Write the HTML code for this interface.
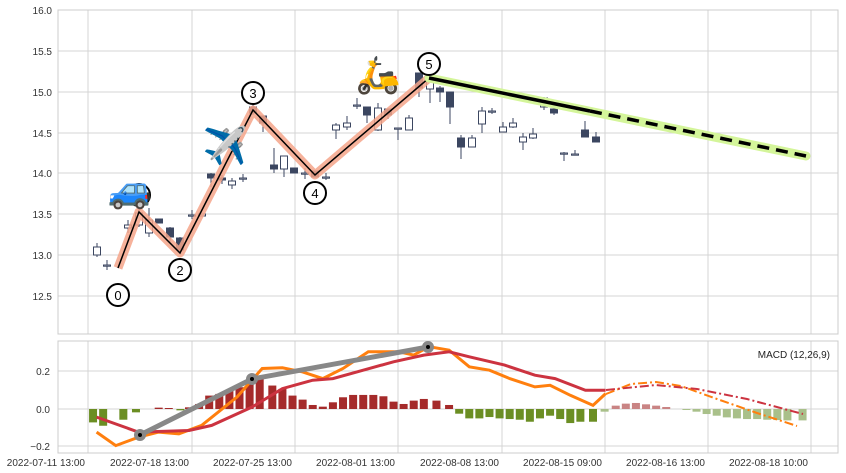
<!DOCTYPE html>
<html><head><meta charset="utf-8"><style>
html,body{margin:0;padding:0;background:#fff;}
svg{display:block;font-family:"Liberation Sans",sans-serif;}
</style></head><body>
<svg id="s" width="846" height="473" viewBox="0 0 846 473" xmlns="http://www.w3.org/2000/svg">
<rect width="846" height="473" fill="#fff"/>
<g stroke="#d4d4d4" stroke-width="1">
<line x1="58" y1="51" x2="838" y2="51"/><line x1="58" y1="92" x2="838" y2="92"/><line x1="58" y1="133" x2="838" y2="133"/><line x1="58" y1="173" x2="838" y2="173"/><line x1="58" y1="214" x2="838" y2="214"/><line x1="58" y1="255" x2="838" y2="255"/><line x1="58" y1="296" x2="838" y2="296"/>
<line x1="58" y1="371" x2="838" y2="371"/><line x1="58" y1="409" x2="838" y2="409"/><line x1="58" y1="446" x2="838" y2="446"/>
</g>
<g id="vg" stroke="#d4d4d4"></g>
<rect x="58" y="10" width="780" height="324" fill="none" stroke="#ccc"/>
<rect x="58" y="341" width="780" height="112" fill="none" stroke="#ccc"/>
<g font-size="10" fill="#333" text-anchor="end">
<text x="52" y="14">16.0</text><text x="52" y="55">15.5</text><text x="52" y="96">15.0</text><text x="52" y="137">14.5</text><text x="52" y="177">14.0</text><text x="52" y="218">13.5</text><text x="52" y="259">13.0</text><text x="52" y="300">12.5</text>
<text x="50" y="375">0.2</text><text x="50" y="413">0.0</text><text x="50" y="450">−0.2</text>
</g>
<g id="xl" font-size="10" fill="#333" text-anchor="end"></g>
<g id="cd"></g>
<polyline points="118,268 139,212 180,253 253,110 315,175 429,78" fill="none" stroke="#f4a58a" stroke-width="9" stroke-linejoin="round" opacity="0.85"/>
<polyline points="118,268 139,212 180,253 253,110 315,175 429,78" fill="none" stroke="#000" stroke-width="1.5"/>
<line x1="429" y1="78" x2="806" y2="156" stroke="#d4f59a" stroke-width="9" stroke-linecap="round"/>
<line x1="429" y1="78" x2="590" y2="111" stroke="#000" stroke-width="3.5"/>
<line x1="590" y1="111" x2="806" y2="156" stroke="#000" stroke-width="3.5" stroke-dasharray="12,7"/>
<g fill="#fff" stroke="#000" stroke-width="2" font-size="12" text-anchor="middle">
<circle cx="118" cy="295" r="11"/><circle cx="139" cy="195" r="11"/><circle cx="180" cy="270" r="11"/><circle cx="253" cy="93" r="11"/><circle cx="315" cy="193" r="11"/><circle cx="429" cy="64" r="11"/>
</g>
<g font-size="13" fill="#000" text-anchor="middle">
<text x="118" y="300">0</text><text x="180" y="275">2</text><text x="253" y="98">3</text><text x="315" y="198">4</text><text x="429" y="69">5</text>
</g>
<g font-size="36" text-anchor="middle" font-family="'Noto Color Emoji','DejaVu Sans',sans-serif">
<text x="130" y="202">🚙</text><text x="225" y="158">✈️</text><text x="378" y="87">🛵</text>
</g>
<g id="hb"></g>
<polyline id="ml" fill="none" stroke="#ff7f0e" stroke-width="3"/>
<polyline id="sl" fill="none" stroke="#cc3340" stroke-width="3"/>
<polyline points="606,394 631,384 656,382 681,386 717,399 757,413 797,426" fill="none" stroke="#ff7f0e" stroke-width="2" stroke-dasharray="9,3,2,3"/>
<polyline points="606,390 656,385 697,389 747,399 803,414" fill="none" stroke="#cc3340" stroke-width="2" stroke-dasharray="9,3,2,3"/>
<polyline points="140,435 252,379 428,347" fill="none" stroke="#888" stroke-width="5"/>
<g fill="#000" stroke="#888" stroke-width="4"><circle cx="140" cy="435" r="4"/><circle cx="252" cy="379" r="4"/><circle cx="428" cy="347" r="4"/></g>
<text x="830" y="358" font-size="10" fill="#222" text-anchor="end">MACD (12,26,9)</text>
</svg>
<script>
var NS="http://www.w3.org/2000/svg";
function el(p,t,a){var e=document.createElementNS(NS,t);for(var k in a)e.setAttribute(k,a[k]);document.getElementById(p).appendChild(e);return e;}
var gx=[88,192,295,398,502,605,708,811];
var lb=["2022-07-11 13:00","2022-07-18 13:00","2022-07-25 13:00","2022-08-01 13:00","2022-08-08 13:00","2022-08-15 09:00","2022-08-16 13:00","2022-08-18 10:00"];
gx.forEach(function(x,i){el("vg","line",{x1:x,y1:10,x2:x,y2:334});el("vg","line",{x1:x,y1:341,x2:x,y2:453});var t=el("xl","text",{x:x-3,y:466});t.textContent=lb[i];});
var c=[[97,247,255,243,257,0],[107,265,265,260,270,0],[128,225,228,220,233,0],[139,213,225,208,227,0],[149,220,233,208,237,0],[159,219,223,219,223,1],[170,228,237,227,242,1],[180,238,250,237,253,1],[192,215,215,210,219,0],[202,214,216,214,216,0],[211,174,178,173,187,1],[222,178,180,175,184,1],[232,181,185,178,189,0],[243,178,178,174,182,0],[253,107,113,105,115,1],[263,116,123,116,132,1],[274,165,169,148,173,1],[284,156,169,156,177,0],[294,168,173,168,173,1],[305,173,173,168,179,0],[315,171,177,171,177,1],[326,177,177,173,180,0],[336,125,130,123,139,0],[347,123,127,116,130,0],[357,105,105,98,109,0],[367,107,115,107,123,1],[378,108,130,103,131,0],[388,109,115,109,119,1],[398,128,128,128,140,0],[409,118,130,115,130,0],[419,73,88,73,97,1],[430,77,89,77,103,0],[440,88,92,86,102,1],[450,92,107,92,124,1],[461,138,147,135,159,1],[472,138,147,135,147,0],[482,111,124,107,133,0],[492,111,111,108,114,0],[503,127,132,122,132,0],[513,123,127,118,128,0],[523,137,142,133,150,0],[533,134,138,128,139,0],[544,98,107,97,110,0],[554,109,113,107,115,1],[564,153,153,152,161,0],[575,154,154,150,155,0],[585,130,137,121,137,1],[596,137,142,132,142,1]];
c.forEach(function(d){var col="#3b4660";el("cd","line",{x1:d[0],y1:d[3],x2:d[0],y2:d[4],stroke:col,"stroke-width":1});var h=Math.max(d[2]-d[1],1.2);el("cd","rect",{x:d[0]-3.5,y:d[1],width:7,height:h,fill:d[5]?col:"#fff",stroke:col,"stroke-width":1});});
function X(z){return 88+(z-75)*0.505;}function Y(z){return 335+z*0.335;}
var hb=[[85,40],[105,50],[125,0],[145,32],[170,10],[215,-4],[235,-3],[258,4],[275,-5],[295,-15],[315,-40],[335,-45],[355,-55],[375,-65],[395,-80],[415,-90],[440,-70],[460,-60],[480,-40],[500,-28],[520,-12],[540,-7],[560,-20],[580,-35],[600,-42],[620,-42],[640,-42],[660,-38],[680,-22],[700,-15],[720,-25],[740,-30],[765,-25],[790,-12],[810,14],[830,28],[850,28],[870,24],[890,28],[910,30],[930,32],[950,38],[970,28],[990,20],[1010,30],[1030,42],[1050,38],[1075,38],[1098,8],[1120,-10],[1140,-16],[1160,-18],[1180,-14],[1200,-10],[1220,-6],[1260,3],[1280,8],[1300,15],[1320,20],[1340,25],[1360,28],[1380,30],[1400,30],[1420,32],[1440,33],[1460,34],[1490,34]];
hb.forEach(function(d){if(!d[1])return;var x=X(d[0]),h=Math.abs(d[1])*0.335,f=d[0]>=1098;var col=d[1]>0?(f?"#a9c08a":"#6b8e23"):(f?"#c98484":"#a52a2a");el("hb","rect",{x:x-4,y:d[1]>0?409:409-h,width:8,height:h,fill:col});});
var ml=[[92,290],[130,330],[175,305],[215,290],[255,295],[300,270],[370,185],[420,100],[460,98],[500,110],[540,130],[580,100],[630,50],[690,50],[720,60],[750,35],[790,45],[830,95],[870,105],[910,130],[960,155],[990,150],[1030,180],[1075,210],[1100,175]];
var sl=[[92,245],[175,290],[275,285],[320,270],[400,215],[460,160],[520,135],[560,130],[620,105],[680,80],[740,60],[790,50],[830,65],[900,90],[960,120],[1000,130],[1060,165],[1100,165]];
function pts(a){return a.map(function(p){return X(p[0]).toFixed(1)+","+Y(p[1]).toFixed(1);}).join(" ");}
document.getElementById("ml").setAttribute("points",pts(ml));
document.getElementById("sl").setAttribute("points",pts(sl));
</script>
</body></html>
